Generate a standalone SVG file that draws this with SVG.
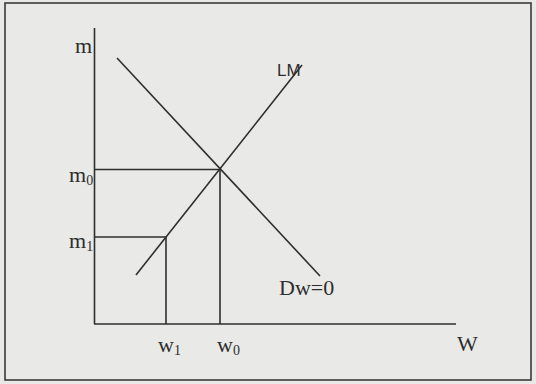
<svg xmlns="http://www.w3.org/2000/svg" width="536" height="384" viewBox="0 0 536 384">
<style>
.ln{stroke:#2e2e2e;stroke-width:1.6;fill:none}
.t{font-family:"Liberation Serif","Times New Roman",serif;font-size:22px;fill:#2e2e2e}
.s{font-family:"Liberation Serif","Times New Roman",serif;font-size:14px;fill:#2e2e2e}
.sans{font-family:"Liberation Sans",Arial,sans-serif;font-size:17px;fill:#2e2e2e}
</style>
<rect x="0" y="0" width="536" height="384" fill="#e9e9e7"/>
<rect x="5" y="3" width="526" height="377" fill="none" stroke="#3a3a3a" stroke-width="1.6"/>
<g id="axes">
<line class="ln" x1="94.5" y1="28" x2="94.5" y2="324"/>
<line class="ln" x1="94" y1="324" x2="456" y2="324"/>
</g>
<g id="connectors">
<line class="ln" x1="117" y1="58" x2="320" y2="276"/>
<line class="ln" x1="136" y1="275" x2="302" y2="65"/>
<line class="ln" x1="94" y1="169.5" x2="220" y2="169.5"/>
<line class="ln" x1="220" y1="169" x2="220" y2="324"/>
<line class="ln" x1="94" y1="237" x2="166" y2="237"/>
<line class="ln" x1="166" y1="237" x2="166" y2="324"/>
</g>
<g id="labels">
<text class="t" x="75" y="53">m</text>
<text class="t" x="69" y="182">m<tspan class="s" dy="3">0</tspan></text>
<text class="t" x="69" y="248">m<tspan class="s" dy="3">1</tspan></text>
<text class="t" x="158" y="352">w<tspan class="s" dy="3">1</tspan></text>
<text class="t" x="217" y="352">w<tspan class="s" dy="3">0</tspan></text>
<text class="t" x="457" y="351">W</text>
<text class="sans" x="277" y="76">LM</text>
<text class="t" x="279" y="295">Dw=0</text>
</g>
</svg>
